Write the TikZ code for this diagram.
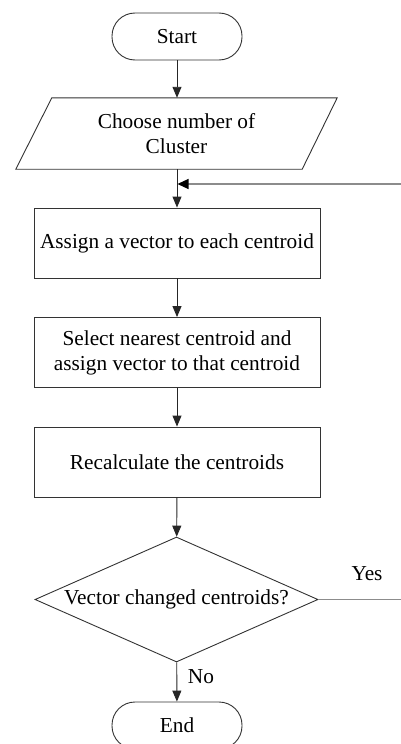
\documentclass[tikz,border=0pt]{standalone}
\usepackage{fontspec}
\setmainfont{Liberation Serif}
\usetikzlibrary{shapes.geometric,arrows.meta}
\begin{document}
\begin{tikzpicture}[x=1pt,y=-1pt,
  every node/.style={font=\fontsize{21.3}{25}\selectfont, inner sep=0pt, align=center},
  term/.style={draw=black!80, line width=0.9pt, rounded corners=23pt, minimum width=130pt, minimum height=47pt},
  proc/.style={draw=black!80, line width=0.9pt, minimum width=286pt, minimum height=70pt},
  conn/.style={draw=black!85, line width=0.9pt, -{Triangle[length=11pt,width=9pt]}},
  back/.style={draw=black!45, line width=1.1pt},
  backarr/.style={draw=black!45, line width=1.1pt, -{Triangle[length=11pt,width=10pt,color=black]}}
]
\useasboundingbox (0,0) rectangle (400,744);
\node[term] (start) at (177,36.5) {Start};
\node[minimum width=321pt, minimum height=71pt] (choose) at (176.5,133.5) {Choose number of\\Cluster};
\draw[draw=black!80, line width=0.9pt] ([xshift=36pt]choose.north west) -- (choose.north east)
  -- ([xshift=-35pt]choose.south east) -- (choose.south west) -- cycle;
\node[proc] (assign) at (177,243) {Assign a vector to each centroid};
\node[proc] (select) at (177,352.5) {Select nearest centroid and\\assign vector to that centroid};
\node[proc] (recalc) at (177,462) {Recalculate the centroids};
\node[diamond, draw=black!80, line width=0.9pt, minimum width=283pt, minimum height=125pt, aspect=2.26] (dec) at (176.5,599.5) {Vector changed centroids?};
\node[term] (end) at (177,725.5) {End};
\node (yes) at (367,574) {Yes};
\node (no) at (201,677) {No};
\coordinate (join) at (177,184);
\coordinate (rb) at (402,599.5);
\coordinate (rt) at (402,184);

\draw[conn] (start) -- (start |- choose.north);
\draw[draw=black!85, line width=0.9pt] (choose.south -| start) -- (join);
\draw[conn] (join) -- (assign);
\draw[conn] (assign) -- (select);
\draw[conn] (select) -- (recalc);
\draw[conn] (recalc) -- (dec);
\draw[conn] (dec) -- (end);
\draw[back] (dec.east) -- (rb) -- (rt);
\draw[backarr] (rt) -- ([xshift=0.5pt]join);
\end{tikzpicture}
\end{document}
